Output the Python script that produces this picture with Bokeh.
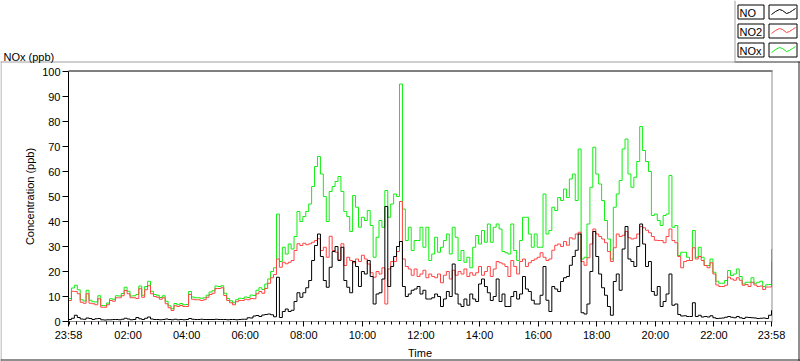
from bokeh.plotting import figure
from bokeh.models import FixedTicker, LinearAxis, ColumnDataSource, Range1d
from bokeh.core.properties import value
from bokeh.embed import file_html
from bokeh.resources import INLINE

# ---------------- data (ppb), one sample every 6 minutes from 23:58 ----------------
start_minute = -2
step_minutes = 6

no2_ppb = [
    8.4, 12.1, 12.0, 11.1, 7.7, 7.3, 11.1, 7.3, 7.1, 6.7, 9.1, 5.7, 5.7, 6.7, 8.4, 8.1,
    9.5, 9.5, 10.3, 12.4, 11.1, 9.5, 9.5, 9.2, 13.1, 9.7, 12.7, 14.3, 11.1, 10.0, 9.7, 8.9,
    9.5, 7.1, 5.5, 4.4, 6.3, 6.0, 6.4, 6.0, 6.0, 10.8, 8.9, 8.7, 8.7, 8.4, 8.7, 9.7,
    10.8, 11.3, 13.2, 13.2, 13.5, 10.4, 8.4, 7.5, 6.7, 7.9, 8.4, 8.4, 8.9, 8.7, 9.2, 9.1,
    11.1, 12.0, 11.3, 13.2, 15.3, 17.5, 18.8, 25.0, 21.7, 23.7, 23.1, 23.7, 24.4, 28.4, 31.1, 30.4,
    31.3, 30.7, 31.1, 31.7, 32.4, 33.1, 28.4, 29.7, 25.7, 34.1, 28.4, 27.7, 24.7, 31.1, 22.4, 25.7,
    24.4, 23.5, 25.0, 24.0, 26.5, 25.0, 23.0, 19.5, 17.7, 20.0, 19.0, 21.5, 7.0, 21.0, 24.0, 24.0,
    28.0, 48.0, 25.0, 22.0, 21.0, 18.5, 21.0, 18.0, 19.0, 20.5, 17.5, 19.0, 18.0, 17.5, 19.0, 15.5,
    18.5, 20.0, 17.0, 20.5, 18.5, 20.0, 19.0, 21.0, 18.0, 19.5, 18.5, 19.5, 22.0, 18.5, 20.0,
    22.0, 18.0, 21.0, 24.0, 23.5, 23.0, 22.0, 18.0, 24.4, 22.0, 19.0, 24.0, 25.0, 22.0, 23.5, 24.4,
    25.0, 25.7, 27.5, 25.7, 24.4, 25.0, 28.5, 30.5, 31.0, 30.0, 32.0, 30.5, 33.5, 33.0, 35.0, 35.7,
    24.0, 22.5, 25.5, 31.0, 37.0, 35.0, 34.0, 33.0, 31.5, 28.0, 24.0, 29.5, 35.0, 34.0, 34.5, 36.0,
    33.5, 33.0, 33.3, 35.0, 38.0, 37.5, 36.5, 35.5, 34.0, 32.5, 32.4, 32.4, 31.5, 34.0, 37.0, 32.4,
    31.5, 26.0, 21.5, 24.0, 24.4, 24.4, 29.5, 25.0, 26.0, 24.4, 22.4, 21.5, 23.5, 19.0, 14.6, 14.0,
    14.0, 14.5, 17.7, 17.0, 16.5, 17.5, 16.5, 14.5, 14.8, 14.0, 15.7, 14.6, 14.0, 14.2, 12.8, 13.8,
    13.8, 24.0,
]

no_ppb = [
    0.8, 1.3, 2.5, 1.6, 1.0, 0.9, 1.4, 1.2, 0.8, 1.1, 1.2, 0.7, 0.6, 0.7, 0.7, 0.8,
    0.8, 0.7, 0.9, 1.3, 1.0, 0.7, 0.8, 1.6, 1.1, 0.8, 1.3, 1.8, 1.0, 0.8, 0.8, 0.7,
    0.8, 1.0, 0.8, 0.7, 0.9, 0.7, 0.8, 0.7, 0.8, 1.2, 0.9, 0.8, 0.8, 0.9, 0.8, 0.8,
    0.8, 0.8, 0.9, 0.8, 0.8, 0.8, 0.7, 0.8, 0.8, 0.7, 0.8, 0.9, 0.9, 1.5, 1.4, 2.2,
    2.4, 2.0, 2.6, 2.8, 3.0, 2.7, 1.9, 17.7, 1.6, 4.0, 5.0, 4.0, 4.5, 8.0, 11.5, 9.7,
    11.5, 13.5, 16.4, 24.4, 30.4, 35.0, 26.0, 16.4, 13.7, 21.7, 28.0, 30.0, 24.4, 29.7, 16.4, 13.7,
    11.5, 24.0, 22.0, 14.0, 20.0, 19.0, 24.4, 18.0, 7.0, 11.0, 11.5, 17.0, 46.0, 14.0, 22.0, 26.0,
    30.0, 32.0, 14.0, 10.0, 11.0, 12.5, 13.0, 14.0, 11.0, 12.5, 9.0, 9.0, 9.5, 11.0, 10.0, 6.0,
    9.0, 12.0, 10.0, 23.0, 11.0, 7.0, 6.0, 9.0, 6.5, 11.0, 9.0, 8.0, 15.0, 17.0, 14.0,
    11.5, 8.4, 10.0, 17.0, 8.0, 11.0, 6.0, 6.0, 10.0, 12.0, 9.0, 11.0, 18.0, 13.0, 12.0, 8.5,
    7.0, 7.0, 10.5, 22.0, 8.5, 4.0, 14.0, 13.0, 12.0, 16.0, 17.5, 18.0, 22.5, 26.0, 28.5, 35.0,
    3.5, 3.0, 7.0, 20.0, 36.0, 26.0, 19.0, 13.5, 10.5, 6.0, 2.5, 16.0, 19.0, 12.5, 29.0, 38.0,
    25.0, 24.0, 22.0, 30.0, 39.0, 31.0, 22.0, 24.0, 12.0, 10.5, 14.0, 6.0, 8.0, 11.0, 19.0, 6.5,
    7.0, 2.8, 2.2, 2.3, 2.0, 2.0, 7.5, 2.0, 2.5, 1.8, 2.0, 1.8, 2.3, 1.5, 1.2, 1.3,
    1.4, 1.7, 2.0, 1.7, 1.5, 2.0, 1.5, 1.2, 1.7, 1.6, 1.5, 1.4, 1.2, 1.3, 1.4, 1.2,
    2.5, 4.5,
]

nox_ppb = [
    9.2, 13.4, 14.5, 12.7, 8.7, 8.2, 12.5, 8.5, 7.9, 7.8, 10.3, 6.4, 6.3, 7.4, 9.1, 8.9,
    10.3, 10.2, 11.2, 13.7, 12.1, 10.2, 10.3, 10.8, 14.2, 10.5, 14.0, 16.1, 12.1, 10.8, 10.5, 9.6,
    10.3, 8.1, 6.3, 5.1, 7.2, 6.7, 7.2, 6.7, 6.8, 12.0, 9.8, 9.5, 9.5, 9.3, 9.5, 10.5,
    11.8, 12.3, 14.2, 14.0, 14.3, 11.3, 9.2, 8.3, 7.5, 8.7, 9.3, 9.2, 9.8, 9.6, 10.6, 10.4,
    12.5, 13.5, 12.8, 15.0, 17.0, 20.0, 21.5, 43.0, 24.0, 29.7, 27.0, 31.0, 29.0, 34.0, 44.0, 40.0,
    42.0, 44.0, 47.0, 54.0, 62.0, 66.0, 59.0, 50.0, 40.0, 52.0, 54.0, 56.0, 58.0, 52.0, 44.0, 42.0,
    36.0, 50.4, 45.7, 37.7, 41.7, 40.4, 44.4, 38.4, 25.7, 33.7, 40.4, 37.7, 52.4, 41.7, 47.0, 51.0,
    50.0, 95.0, 45.0, 32.4, 37.7, 28.4, 32.4, 32.4, 37.7, 29.7, 37.7, 24.4, 27.0, 33.7, 27.7, 29.7,
    32.4, 35.0, 27.0, 37.7, 33.7, 24.4, 28.4, 23.7, 25.7, 21.5, 29.7, 34.4, 31.0, 36.4, 31.7,
    39.0, 31.7, 37.7, 39.0, 37.0, 28.0, 27.5, 27.0, 39.0, 28.4, 24.4, 32.4, 41.7, 41.7, 35.0, 29.7,
    35.0, 29.7, 29.7, 51.0, 35.0, 36.4, 45.7, 44.4, 49.6, 48.4, 53.0, 49.6, 57.0, 59.0, 48.4, 69.0,
    25.0, 25.7, 39.0, 53.7, 69.7, 59.0, 55.0, 48.4, 40.4, 33.0, 25.0, 45.7, 51.0, 56.4, 69.0, 73.0,
    59.0, 53.7, 57.7, 64.0, 78.0, 68.4, 64.0, 60.0, 42.4, 43.0, 40.4, 38.4, 42.4, 43.0, 58.4, 37.7,
    38.4, 26.4, 27.7, 27.7, 25.7, 24.4, 36.4, 25.7, 29.7, 25.7, 22.4, 22.4, 25.0, 19.7, 16.1, 15.3,
    15.3, 16.4, 20.4, 18.4, 19.0, 21.0, 18.0, 15.0, 15.7, 15.7, 17.5, 15.3, 15.7, 16.1, 14.0, 14.7,
    14.8, 29.0,
]

series_names = ["NO", "NO2", "NOx"]
series_colors = ["#000000", "#ff4444", "#11ee11"]

major_tick_minutes = [-2, 120, 240, 360, 480, 600, 720, 840, 960, 1080, 1200, 1320, 1438]
major_tick_labels = ["23:58", "02:00", "04:00", "06:00", "08:00", "10:00", "12:00",
                     "14:00", "16:00", "18:00", "20:00", "22:00", "23:58"]
minor_tick_minutes = list(range(0, 1440, 15))
y_ticks = [0, 10, 20, 30, 40, 50, 60, 70, 80, 90, 100]

n = len(no2_ppb)
t_min = [start_minute + step_minutes * i for i in range(n)]
src = ColumnDataSource(dict(t=t_min, no=no_ppb, no2=no2_ppb, nox=nox_ppb))

FONT = "Liberation Sans"
W, H = 800, 361
FX0, FX1, FY0, FY1 = 68, 771, 71, 321   # plot area edges in pixels
X0, X1, Y0, Y1 = -2, 1438, 0, 100       # plot area data limits
KX = (X1 - X0) / (FX1 - FX0)            # minutes per pixel
KY = (Y1 - Y0) / (FY1 - FY0)            # ppb per pixel

# The frame spans the whole canvas; axes are pinned inside it at the plot-area edges.
p = figure(width=W, height=H, output_backend="svg", toolbar_location=None,
           x_range=Range1d(X0 - FX0 * KX, X0 + (W - FX0) * KX),
           y_range=Range1d(Y0 - (H - FY1) * KY, Y0 + FY1 * KY),
           title=None, x_axis_type=None, y_axis_type=None,
           min_border=0, min_border_left=0, min_border_right=0,
           min_border_top=0, min_border_bottom=0)
p.outline_line_color = None
p.background_fill_color = "white"
p.border_fill_color = "white"


def px(x):
    return X0 + (x - FX0) * KX


def py(y):
    return Y0 + (FY1 - y) * KY


# ---------------- decorations (panel, caption, legend) ----------------
seg_x0, seg_y0, seg_x1, seg_y1, seg_c = [], [], [], [], []


def seg(x0, y0, x1, y1, c):
    seg_x0.append(px(x0)); seg_y0.append(py(y0))
    seg_x1.append(px(x1)); seg_y1.append(py(y1)); seg_c.append(c)


seg(68, 70.5, 772, 70.5, "black")          # plot top edge
seg(771.5, 70, 771.5, 322, "#8c8c8c")      # plot right edge
seg(0, 61.5, 734, 61.5, "#a0a0a0")         # panel edges
seg(734, 61.5, 800, 61.5, "#303030")
seg(734.5, 0, 734.5, 62, "#a0a0a0")
seg(0.5, 61, 0.5, 361, "#a0a0a0")
seg(798.5, 61, 798.5, 361, "#202020")
seg(0, 359.5, 800, 359.5, "#202020")

row_tops = [4, 23, 42]
q_l, q_r, q_t, q_b = [], [], [], []
for top in row_tops:
    for bx0, bx1 in ((737.5, 763.5), (768.5, 796.5)):
        q_l.append(px(bx0)); q_r.append(px(bx1))
        q_t.append(py(top + 0.5)); q_b.append(py(top + 14.5))
p.quad(left=q_l, right=q_r, top=q_t, bottom=q_b, fill_color="white",
       line_color="black", line_width=1)
p.segment(x0=seg_x0, y0=seg_y0, x1=seg_x1, y1=seg_y1, color=seg_c, line_width=1)

zig_dx = [2, 6, 10, 13, 17, 20, 23, 26]
zig_dy = [10, 7, 5, 6, 9, 8, 6, 4]
for color, top in zip(series_colors, row_tops):
    p.line([px(769 + d) for d in zig_dx], [py(top + d) for d in zig_dy],
           color=color, line_width=1)

p.text(x=[px(3)], y=[py(56)], text=["NOx (ppb)"], text_font=value(FONT),
       text_font_size=value("11px"), text_color="black", text_baseline="alphabetic")
p.text(x=[px(739)] * 3, y=[py(t + 8) for t in row_tops], text=series_names,
       text_font=value(FONT), text_font_size=value("11px"), text_color="black",
       text_baseline="middle")

# ---------------- data series: NOx below, NO2, NO on top ----------------
p.step("t", "nox", source=src, mode="after", color=series_colors[2], line_width=1)
p.step("t", "no2", source=src, mode="after", color=series_colors[1], line_width=1)
p.step("t", "no", source=src, mode="after", color=series_colors[0], line_width=1)

# ---------------- axes ----------------
xa = LinearAxis(fixed_location=Y0, bounds=(X0, X1), axis_label="Time",
                ticker=FixedTicker(ticks=major_tick_minutes, minor_ticks=minor_tick_minutes),
                major_label_overrides={m: l for m, l in zip(major_tick_minutes, major_tick_labels)})
ya = LinearAxis(fixed_location=X0, bounds=(Y0, Y1), axis_label="Concentration (ppb)",
                ticker=FixedTicker(ticks=y_ticks, minor_ticks=[]))
for ax in (xa, ya):
    ax.major_label_text_font = FONT
    ax.major_label_text_font_size = "11px"
    ax.major_label_text_color = "black"
    ax.axis_label_text_font = FONT
    ax.axis_label_text_font_size = "11px"
    ax.axis_label_text_font_style = "normal"
    ax.axis_label_text_color = "black"
    ax.major_tick_line_color = "black"
    ax.major_tick_in = 0
    ax.minor_tick_in = 0
    ax.major_label_standoff = 2
    ax.axis_label_standoff = 3
xa.axis_line_color = "#8c8c8c"
xa.major_tick_out = 5
xa.minor_tick_out = 3
xa.minor_tick_line_color = "black"
ya.axis_line_color = "black"
ya.major_tick_out = 6
ya.minor_tick_line_color = None
p.add_layout(xa, "below")
p.add_layout(ya, "left")

open("out.html", "w").write(file_html(p, INLINE))
